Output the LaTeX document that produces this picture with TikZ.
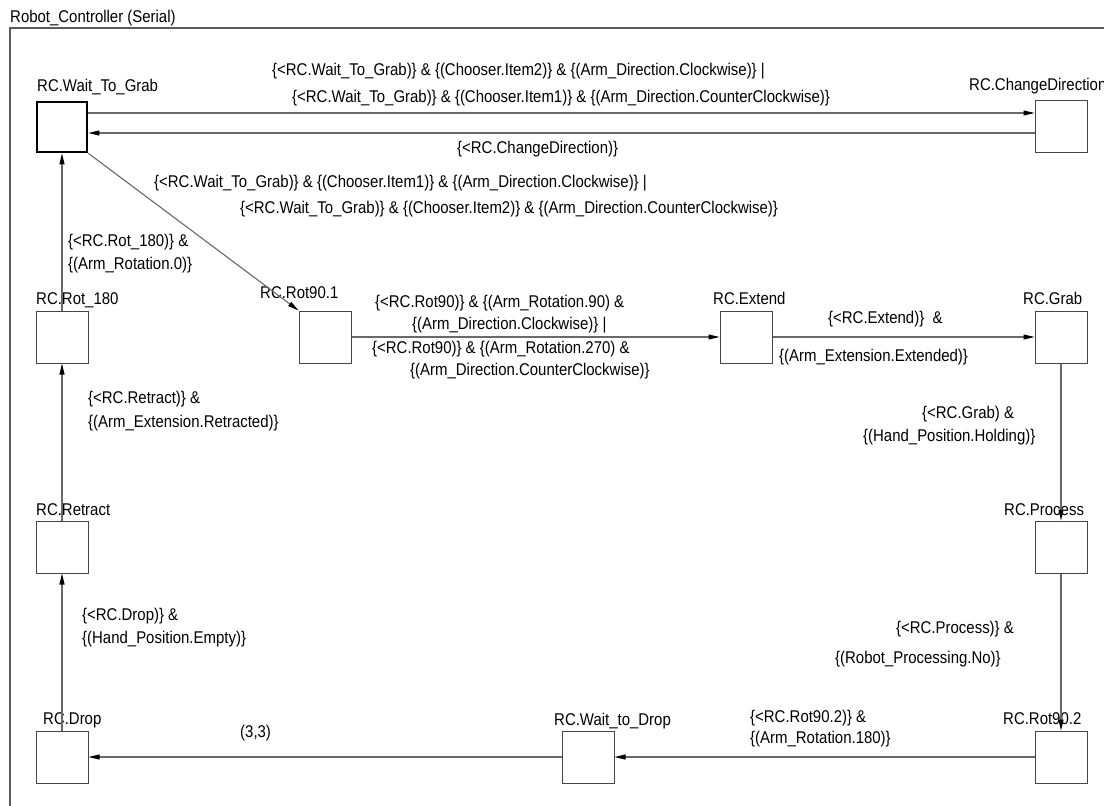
\documentclass[tikz,border=0pt]{standalone}
\usepackage{fontspec}
\setmainfont{Liberation Sans}[FakeStretch=0.88]
\usetikzlibrary{arrows.meta}
\definecolor{linegray}{RGB}{105,105,105}
\definecolor{boxgray}{RGB}{70,70,70}
\definecolor{framegray}{RGB}{90,90,90}
\begin{document}
\begin{tikzpicture}[x=1pt,y=-1pt,
  state/.style={draw=boxgray, line width=1pt, minimum size=52pt, inner sep=0pt, fill=white},
  init/.style={state, draw=black, line width=2.6pt, minimum size=50pt},
  conn/.style={draw=linegray, line width=1.1pt, -{Triangle[length=11pt,width=5pt,color=black]}},
  lbl/.style={anchor=base west, inner sep=0pt, font=\fontsize{17}{20}\selectfont, text=black}]
\fill[white] (0,0) rectangle (1104,806);
\useasboundingbox (0,0) rectangle (1104,806);
% frame
\draw[framegray, line width=1.2pt] (1110,28) -- (10,28) -- (10,812);
\node[lbl] (ttl) at (10,22) {Robot\_Controller (Serial)};
% states
\node[init] (wtg) at (62,127) {};
\node[state] (cd) at (1061,126) {};
\node[state] (r180) at (62,337) {};
\node[state] (r901) at (325,337) {};
\node[state] (ext) at (746,337) {};
\node[state] (grab) at (1061,337) {};
\node[state] (proc) at (1061,547) {};
\node[state] (retr) at (62,547) {};
\node[state] (drop) at (62,757) {};
\node[state] (wtd) at (588,757) {};
\node[state] (r902) at (1061,757) {};
% state names
\node[lbl] (n1) at (37,91) {RC.Wait\_To\_Grab};
\node[lbl] (n2) at (969,90) {RC.ChangeDirection};
\node[lbl] (n3) at (36,304) {RC.Rot\_180};
\node[lbl] (n4) at (260,298) {RC.Rot90.1};
\node[lbl] (n5) at (713,304) {RC.Extend};
\node[lbl] (n6) at (1023,304) {RC.Grab};
\node[lbl] (n7) at (1004,515) {RC.Process};
\node[lbl] (n8) at (36,515) {RC.Retract};
\node[lbl] (n9) at (43,724) {RC.Drop};
\node[lbl] (n10) at (554,725) {RC.Wait\_to\_Drop};
\node[lbl] (n11) at (1003,724) {RC.Rot90.2};
% transition labels
\node[lbl] (t1) at (272,75) {\{<RC.Wait\_To\_Grab)\} \& \{(Chooser.Item2)\} \& \{(Arm\_Direction.Clockwise)\} |};
\node[lbl] (t2) at (292,102) {\{<RC.Wait\_To\_Grab)\} \& \{(Chooser.Item1)\} \& \{(Arm\_Direction.CounterClockwise)\}};
\node[lbl] (t3) at (457,153) {\{<RC.ChangeDirection)\}};
\node[lbl] (t4) at (154,187) {\{<RC.Wait\_To\_Grab)\} \& \{(Chooser.Item1)\} \& \{(Arm\_Direction.Clockwise)\} |};
\node[lbl] (t5) at (240,213) {\{<RC.Wait\_To\_Grab)\} \& \{(Chooser.Item2)\} \& \{(Arm\_Direction.CounterClockwise)\}};
\node[lbl] (t6) at (68,246) {\{<RC.Rot\_180)\} \&};
\node[lbl] (t7) at (68,269) {\{(Arm\_Rotation.0)\}};
\node[lbl] (t8) at (88,403) {\{<RC.Retract)\} \&};
\node[lbl] (t9) at (88,427) {\{(Arm\_Extension.Retracted)\}};
\node[lbl] (t10) at (375,307) {\{<RC.Rot90)\} \& \{(Arm\_Rotation.90) \&};
\node[lbl] (t11) at (412,329) {\{(Arm\_Direction.Clockwise)\} |};
\node[lbl] (t12) at (372,353) {\{<RC.Rot90)\} \& \{(Arm\_Rotation.270) \&};
\node[lbl] (t13) at (410,375) {\{(Arm\_Direction.CounterClockwise)\}};
\node[lbl] (t14) at (828,323) {\{<RC.Extend)\}\ \ \&};
\node[lbl] (t15) at (779,361) {\{(Arm\_Extension.Extended)\}};
\node[lbl] (t16) at (922,418) {\{<RC.Grab) \&};
\node[lbl] (t17) at (863,441) {\{(Hand\_Position.Holding)\}};
\node[lbl] (t18) at (896,633) {\{<RC.Process)\} \&};
\node[lbl] (t19) at (835,663) {\{(Robot\_Processing.No)\}};
\node[lbl] (t20) at (750,722) {\{<RC.Rot90.2)\} \&};
\node[lbl] (t21) at (750,743) {\{(Arm\_Rotation.180)\}};
\node[lbl] (t22) at (240,737) {(3,3)};
\node[lbl] (t23) at (82,620) {\{<RC.Drop)\} \&};
\node[lbl] (t24) at (82,643) {\{(Hand\_Position.Empty)\}};
% connectors
\draw[conn] ([yshift=14pt]wtg.east) -- ([yshift=13pt]cd.west);
\draw[conn] ([yshift=-7pt]cd.west) -- ([yshift=-6pt]wtg.east);
\draw[conn] (wtg.south east) -- (r901.north west);
\draw[conn] (r180.north) -- (wtg.south);
\draw[conn] (retr.north) -- (r180.south);
\draw[conn] (drop.north) -- (retr.south);
\draw[conn] (r901.east) -- (ext.west);
\draw[conn] (ext.east) -- (grab.west);
\draw[conn] (grab.south) -- (proc.north);
\draw[conn] (proc.south) -- (r902.north);
\draw[conn] (r902.west) -- (wtd.east);
\draw[conn] (wtd.west) -- (drop.east);
\end{tikzpicture}
\end{document}
